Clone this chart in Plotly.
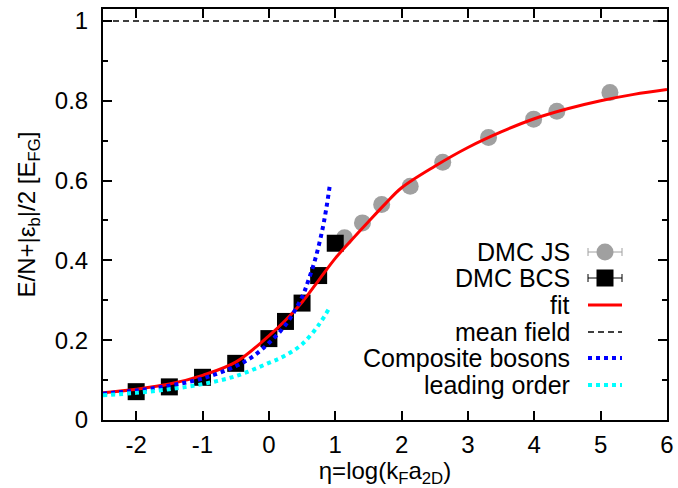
import plotly.graph_objects as go

# ---------------- data ----------------
js_eta = [1.14, 1.41, 1.70, 2.13, 2.62, 3.31, 3.99, 4.34, 5.14]
js_e = [0.457, 0.494, 0.540, 0.586, 0.646, 0.708, 0.754, 0.774, 0.821]

bcs_eta = [-2.0, -1.5, -1.0, -0.5, 0.0, 0.25, 0.5, 0.75, 1.0]
bcs_e = [0.071, 0.083, 0.107, 0.142, 0.204, 0.247, 0.293, 0.362, 0.443]

fit_eta = [-2.5, -2, -1.5, -1, -0.5, 0, 0.25, 0.5, 0.75, 1, 1.25, 1.5, 1.75,
           2, 2.5, 3, 3.5, 4, 4.5, 5, 5.5, 6]
fit_e = [0.068, 0.077, 0.090, 0.112, 0.145, 0.211, 0.250, 0.295, 0.350, 0.405,
         0.452, 0.497, 0.541, 0.582, 0.636, 0.683, 0.722, 0.755, 0.780, 0.800,
         0.816, 0.828]

mf_eta = [-2.5, 6]
mf_e = [1.0, 1.0]

cb_eta = [-2.5, -2, -1.5, -1, -0.5, -0.25, 0, 0.25, 0.5, 0.6, 0.7, 0.8, 0.86, 0.92]
cb_e = [0.066, 0.074, 0.086, 0.104, 0.135, 0.158, 0.193, 0.238, 0.308, 0.352,
        0.404, 0.472, 0.525, 0.590]

lo_eta = [-2.5, -2, -1.5, -1, -0.5, 0, 0.25, 0.5, 0.75, 0.92]
lo_e = [0.062, 0.068, 0.077, 0.090, 0.110, 0.143, 0.162, 0.190, 0.238, 0.283]

x_tickvals = [-2, -1, 0, 1, 2, 3, 4, 5, 6]
x_ticktext = ["-2", "-1", "0", "1", "2", "3", "4", "5", "6"]
y_tickvals = [0, 0.2, 0.4, 0.6, 0.8, 1.0]
y_ticktext = ["0", "0.2", "0.4", "0.6", "0.8", "1"]

legend_names = ["DMC JS", "DMC BCS", "fit", "mean field", "Composite bosons", "leading order"]

# ---------------- styles ----------------
FONT = "Liberation Sans, Arial, Helvetica, sans-serif"
GRAY = "#a0a0a0"
RED = "#ff0000"
BLUE = "#0000ff"
CYAN = "#00ffff"

W, H = 678, 488
ML, MR, MT, MB = 103, 11, 9, 68
PW, PH = W - ML - MR, H - MT - MB


def px(x):
    return (x - ML) / PW


def py(y):
    return (H - MB - y) / PH


fig = go.Figure()
fig.add_trace(go.Scatter(x=js_eta, y=js_e, mode="markers", name=legend_names[0],
                         marker=dict(symbol="circle", size=17, color=GRAY),
                         showlegend=False))
fig.add_trace(go.Scatter(x=bcs_eta, y=bcs_e, mode="markers", name=legend_names[1],
                         marker=dict(symbol="square", size=17, color="black"),
                         showlegend=False))
fig.add_trace(go.Scatter(x=fit_eta, y=fit_e, mode="lines", name=legend_names[2],
                         line=dict(color=RED, width=3, shape="spline"),
                         showlegend=False))
fig.add_trace(go.Scatter(x=mf_eta, y=mf_e, mode="lines", name=legend_names[3],
                         line=dict(color="black", width=1.5, dash="6px,4px"),
                         showlegend=False))
fig.add_trace(go.Scatter(x=cb_eta, y=cb_e, mode="lines", name=legend_names[4],
                         line=dict(color=BLUE, width=4, dash="dot", shape="spline"),
                         showlegend=False))
fig.add_trace(go.Scatter(x=lo_eta, y=lo_e, mode="lines", name=legend_names[5],
                         line=dict(color=CYAN, width=4, dash="dot", shape="spline"),
                         showlegend=False))

# ---------------- manual legend (text right-aligned, sample on its right) ----------------
row_y = [252, 278, 305, 332, 358, 385]
text_right = 572
s0, s1, sc = 588, 622, 605
shapes = []
annotations = []
for name, yy in zip(legend_names, row_y):
    annotations.append(dict(text=name, x=px(text_right), y=py(yy), xref="paper", yref="paper",
                            xanchor="right", yanchor="middle", showarrow=False,
                            font=dict(family=FONT, size=25, color="black")))

for color, yy, kind in [(GRAY, row_y[0], "circle"), ("black", row_y[1], "rect")]:
    shapes.append(dict(type="line", xref="paper", yref="paper", x0=px(s0), x1=px(s1),
                       y0=py(yy), y1=py(yy), line=dict(color=color, width=1)))
    for xe in (s0, s1):
        shapes.append(dict(type="line", xref="paper", yref="paper", x0=px(xe), x1=px(xe),
                           y0=py(yy - 4), y1=py(yy + 4), line=dict(color=color, width=1)))
    shapes.append(dict(type=kind, xref="paper", yref="paper", x0=px(sc - 8.5), x1=px(sc + 8.5),
                       y0=py(yy + 8.5), y1=py(yy - 8.5), fillcolor=color,
                       line=dict(color=color, width=0)))
for color, yy, width, dash in [(RED, row_y[2], 3, "solid"), ("black", row_y[3], 1.5, "6px,4px"),
                               (BLUE, row_y[4], 4, "dot"), (CYAN, row_y[5], 4, "dot")]:
    shapes.append(dict(type="line", xref="paper", yref="paper", x0=px(s0), x1=px(s1),
                       y0=py(yy), y1=py(yy), line=dict(color=color, width=width, dash=dash)))

axis_common = dict(showline=True, linewidth=2, linecolor="black", mirror="ticks",
                   ticks="inside", ticklen=9, tickwidth=1.5, tickcolor="black",
                   showgrid=False, zeroline=False, ticklabeloverflow="allow",
                   tickfont=dict(family=FONT, size=24, color="black"))

fig.update_layout(
    width=W, height=H,
    margin=dict(l=ML, r=MR, t=MT, b=MB, autoexpand=False),
    paper_bgcolor="white", plot_bgcolor="white",
    font=dict(family=FONT, color="black"),
    xaxis=dict(range=[-2.5, 6], tickmode="array", tickvals=x_tickvals, ticktext=x_ticktext,
               ticklabelstandoff=2,
               title=dict(text="η=log(k<sub>F</sub>a<sub>2D</sub>)",
                          font=dict(family=FONT, size=24), standoff=0),
               **axis_common),
    yaxis=dict(range=[0, 1.03], tickmode="array", tickvals=y_tickvals, ticktext=y_ticktext,
               ticklabelstandoff=8,
               minor=dict(tickmode="linear", tick0=0, dtick=0.1, ticks="inside", ticklen=5,
                          tickcolor="black", tickwidth=1.5, showgrid=False),
               title=dict(text="E/N+|ε<sub>b</sub>|/2 [E<sub>FG</sub>]",
                          font=dict(family=FONT, size=24), standoff=12),
               **axis_common),
    shapes=shapes,
    annotations=annotations,
    showlegend=False,
)

fig.write_html("out.html", config={"displayModeBar": False},
               post_script="document.body.style.margin='0';")
